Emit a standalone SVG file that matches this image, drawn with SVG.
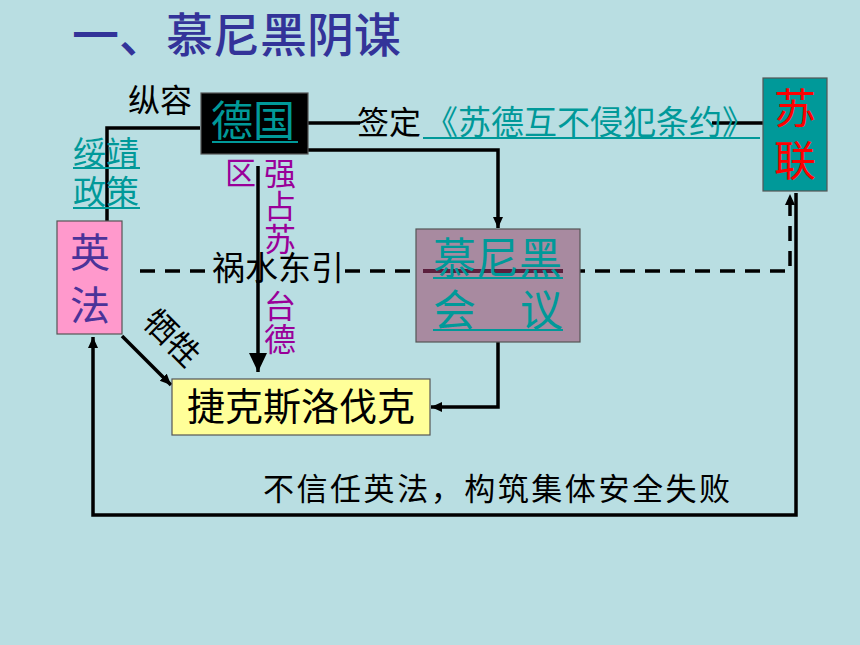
<svg xmlns="http://www.w3.org/2000/svg" width="860" height="645" viewBox="0 0 860 645">
<style>
text{font-family:"Noto Sans CJK SC","Noto Sans CJK JP",sans-serif;}
.box{stroke:#555;stroke-width:1.2;}
.ln{fill:none;stroke:#000;stroke-width:3.5;}
.dash{fill:none;stroke:#000;stroke-width:3.5;stroke-dasharray:15 10;}
.ul{stroke:#009999;stroke-width:2;}
.teal{fill:#009999;}
.mag{fill:#990099;}
.blk{fill:#000;}
</style>
<defs>
<marker id="ah" markerUnits="userSpaceOnUse" markerWidth="12" markerHeight="12" refX="11" refY="5" orient="auto">
<path d="M0,0 L11,5 L0,10 Z" fill="#000"/>
</marker>
<marker id="ahBig" markerUnits="userSpaceOnUse" markerWidth="20" markerHeight="20" refX="19" refY="9" orient="auto">
<path d="M0,0 L19,9 L0,18 Z" fill="#000"/>
</marker>
</defs>
<rect width="860" height="645" fill="#B9DEE2"/>
<text x="72" y="52" font-size="47" font-weight="500" fill="#333399">一、慕尼黑阴谋</text>

<g id="connectors">
<polyline class="ln" points="200,128 107,128 107,221"/>
<line class="ln" x1="308" y1="123" x2="360" y2="123"/>
<line class="ln" x1="712" y1="123" x2="766" y2="123"/>
<polyline class="ln" points="308,150 498,150 498,228" marker-end="url(#ah)"/>
<line class="ln" x1="258" y1="166" x2="258" y2="372" marker-end="url(#ahBig)"/>
<polyline class="ln" points="498,342 498,407 431,407" marker-end="url(#ah)"/>
<line class="ln" x1="122" y1="336" x2="171" y2="385" marker-end="url(#ah)"/>
<line class="dash" x1="140" y1="271" x2="212" y2="271"/>
<polyline class="dash" points="345,271 790,271 790,194" marker-end="url(#ah)"/>
<polyline class="ln" points="796,193 796,515 93,515 93,337" marker-end="url(#ah)"/>
</g>

<g id="node-deguo">
<rect class="box" x="201" y="93" width="107" height="61" fill="#000"/>
<text x="211" y="136" font-size="42" class="teal">德国</text>
<line class="ul" x1="212" y1="142" x2="298" y2="142"/>
</g>

<g id="node-sulian">
<rect class="box" x="763" y="78" width="64" height="113" fill="#009999"/>
<text x="795" y="124" font-size="42" fill="#FF0000" text-anchor="middle">苏</text>
<text x="795" y="176" font-size="42" fill="#FF0000" text-anchor="middle">联</text>
</g>

<g id="node-yingfa">
<rect class="box" x="57" y="221" width="65" height="113" fill="#FF99CC"/>
<text x="90" y="267" font-size="40" fill="#4B3399" text-anchor="middle">英</text>
<text x="90" y="320" font-size="40" fill="#4B3399" text-anchor="middle">法</text>
</g>

<g id="node-munich">
<rect class="box" x="416" y="229" width="164" height="113" fill="#A88AA0"/>
<line x1="423" y1="271" x2="563" y2="271" stroke="#5B1F3D" stroke-width="4"/>
<text x="433" y="274" font-size="43" class="teal">慕尼黑</text>
<line class="ul" x1="433" y1="278" x2="563" y2="278"/>
<text x="433" y="326" font-size="43" class="teal">会</text>
<text x="520" y="326" font-size="43" class="teal">议</text>
<line class="ul" x1="433" y1="330" x2="563" y2="330"/>
</g>

<g id="node-czech">
<rect class="box" x="172" y="379" width="258" height="56" fill="#FFFF99"/>
<text x="187" y="420" font-size="38" class="blk">捷克斯洛伐克</text>
</g>

<g id="labels">
<text x="128" y="112" font-size="32" class="blk">纵容</text>
<text x="73" y="165" font-size="33" class="teal">绥靖</text>
<line class="ul" x1="73" y1="168" x2="140" y2="168"/>
<text x="73" y="204" font-size="33" class="teal">政策</text>
<line class="ul" x1="73" y1="208" x2="140" y2="208"/>
<text x="225" y="184" font-size="31" class="mag">区</text>
<text x="264" y="185" font-size="32" class="mag">强</text>
<text x="264" y="218" font-size="32" class="mag">占</text>
<text x="264" y="251" font-size="32" class="mag">苏</text>
<text x="264" y="318" font-size="32" class="mag">台</text>
<text x="264" y="351" font-size="32" class="mag">德</text>
<text x="212" y="280" font-size="33" class="blk">祸水东引</text>
<text x="357" y="134" font-size="32" class="blk">签定</text>
<text x="425" y="134" font-size="33" class="teal">《苏德互不侵犯条约》</text>
<line class="ul" x1="423" y1="138" x2="760" y2="138"/>
<text x="0" y="0" font-size="32" class="blk" text-anchor="middle" transform="translate(164,346) rotate(45)">牺牲</text>
<text x="263" y="500" font-size="31" class="blk" textLength="467" lengthAdjust="spacing">不信任英法，构筑集体安全失败</text>
</g>
</svg>
